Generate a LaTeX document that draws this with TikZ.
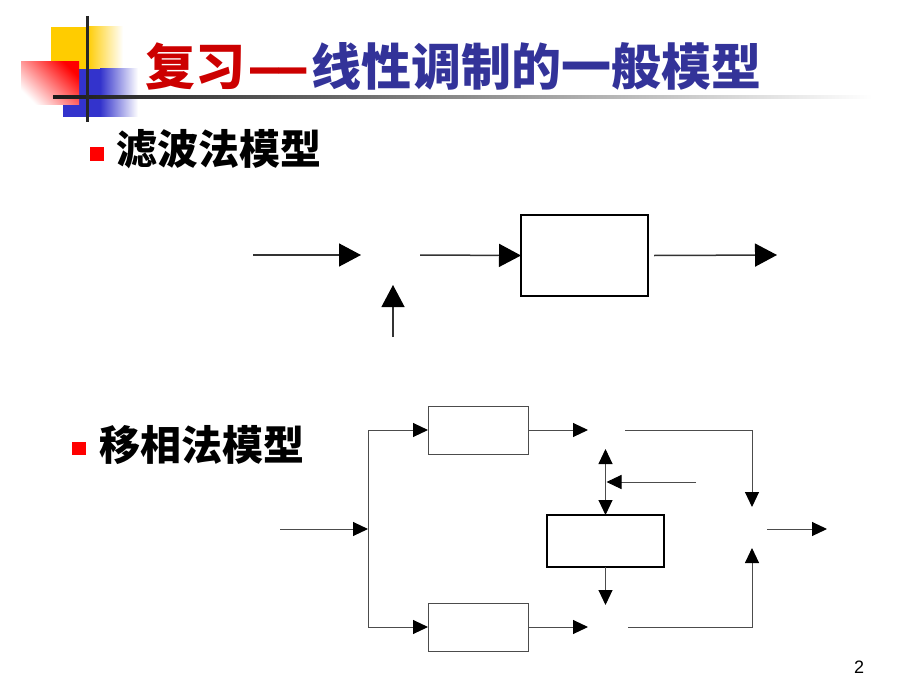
\documentclass[tikz,border=0pt]{standalone}
\usepackage{fontspec}
\setmainfont{Liberation Sans}
\newfontfamily\cjk{Noto Sans CJK SC}
\usepackage{xcolor}
\usepackage{graphicx}
\usetikzlibrary{arrows.meta, positioning}

\definecolor{titlered}{HTML}{CC0000}
\definecolor{titleblue}{HTML}{333399}
\definecolor{decoyellow}{HTML}{FFCC00}
\definecolor{decoblue}{HTML}{3333CC}

\begin{document}
\begin{tikzpicture}[
  x=1pt, y=-1pt,
  bigarrow/.style={-{Triangle[length=22pt, width=23pt, color=black]}, line width=1.5pt, black!80},
  smallarrow/.style={-{Triangle[length=15pt, width=14pt, color=black]}, line width=1pt, black!70},
  dblarrow/.style={{Triangle[length=15pt, width=14pt, color=black]}-{Triangle[length=15pt, width=14pt, color=black]}, line width=1pt, black!70},
  thinline/.style={line width=1pt, black!70},
  filtbox/.style={draw, line width=2pt, inner sep=0pt, outer sep=0pt,
    minimum width=127pt, minimum height=81pt},
  hbox/.style={draw=black!70, line width=1pt, inner sep=0pt, outer sep=0pt,
    minimum width=100pt, minimum height=48pt},
  shbox/.style={draw, line width=2pt, inner sep=0pt, outer sep=0pt,
    minimum width=117pt, minimum height=52pt},
  heading/.style={anchor=base west, inner sep=0pt, font=\cjk\bfseries\fontsize{41}{41}\selectfont}
]
\useasboundingbox (0,0) rectangle (920,690);

% Decor
\fill[decoyellow] (51,27) rectangle (87,70);
\shade[left color=decoyellow, right color=white] (87,27) rectangle (123,70);
\fill[decoblue] (63,69) rectangle (100,117);
\shade[left color=decoblue, right color=white] (100,69) rectangle (138,117);
\shade[bottom color=white, top color=red, shading angle=-45] (21,62) rectangle (79,105);
\shade[left color=black!90, right color=white] (53,95.5) rectangle (872,98.5);
\draw[line width=3pt, black!85] (87,16) -- (87,122);

% Titre
\node[anchor=base west, inner sep=0pt, font=\cjk\bfseries\fontsize{50}{50}\selectfont] (title) at (145,86)
  {\textcolor{titlered}{复习\scalebox{2}[1]{-\kern-0.1em-}}\textcolor{titleblue}{线性调制的一般模型}};

\fill[red] (90,147) rectangle (104,161);
\node[heading] (sec1) at (116,164) {滤波法模型};
\fill[red] (72,442) rectangle (86,455);
\node[heading] (sec2) at (99,460) {移相法模型};

\node[anchor=base west, inner sep=0pt, font=\fontsize{18}{18}\selectfont] (page) at (854,673) {2};

% Filtrage
\coordinate (in1) at (253,255);
\coordinate (mul1in) at (361,255);
\coordinate (mul1out) at (420,255);
\coordinate (car1) at (393,337);
\coordinate (car1tip) at (393,285);
\coordinate (out1) at (777,255);
\node[filtbox] (filt) at (584.5,255.5) {};

\draw[bigarrow] (in1) -- (mul1in);
\draw[bigarrow] (mul1out) -- (filt.west);
\draw[bigarrow] ([xshift=6pt]filt.east) -- (out1);
\draw[bigarrow, line width=1.2pt] (car1) -- (car1tip);

% Dephasage
\node[hbox] (hup) at (478,430) {};
\node[hbox] (hlo) at (478,627) {};
\node[shbox] (shift) at (605.5,541) {};
\coordinate (in2) at (280,529);
\coordinate (split) at (368,529);
\coordinate (mup) at (588,430);
\coordinate (mlo) at (588,627);
\coordinate (mupout) at (625,430);
\coordinate (mloout) at (628,627);
\coordinate (sumup) at (752,507);
\coordinate (sumlo) at (752,548);
\coordinate (carup) at (605.5,449);
\coordinate (carin) at (696,482);
\coordinate (carlo) at (605.5,605);
\coordinate (sumout) at (767,529);
\coordinate (out2) at (827,529);

\draw[smallarrow] (in2) -- (split);
\draw[thinline] (split |- hup.west) -- (split |- hlo.west);
\draw[smallarrow] (split |- hup.west) -- (hup.west);
\draw[smallarrow] (split |- hlo.west) -- (hlo.west);
\draw[smallarrow] (hup.east) -- (mup);
\draw[smallarrow] (hlo.east) -- (mlo);
\draw[smallarrow] (mupout) -| (sumup);
\draw[smallarrow] (mloout) -| (sumlo);
\draw[dblarrow] (carup) -- (shift.north);
\draw[smallarrow] (carin) -- ([xshift=1pt]carin -| shift.north);
\draw[smallarrow] (shift.south) -- (carlo);
\draw[smallarrow] (sumout) -- (out2);

\end{tikzpicture}
\end{document}
